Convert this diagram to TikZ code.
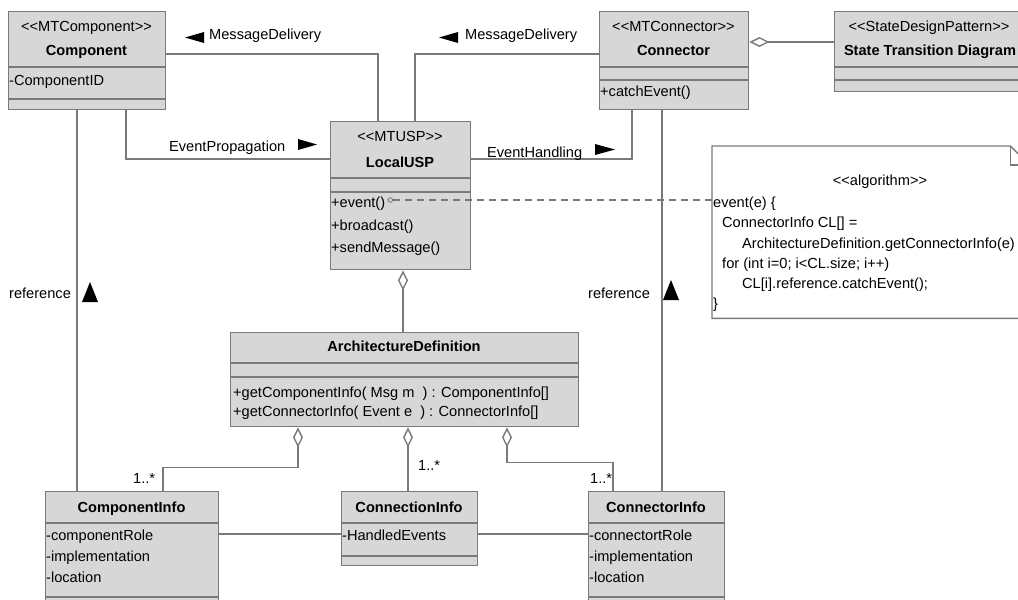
\documentclass[tikz,border=0pt]{standalone}
\usepackage{fontspec}
\setmainfont{Liberation Sans}
\usetikzlibrary{arrows.meta,calc}
\definecolor{lgray}{RGB}{122,122,122}
\definecolor{bfill}{RGB}{215,215,215}
\newcommand\dfont{\fontsize{14.6}{17}\selectfont}
\newcommand\stL{<\kern0pt<}
\newcommand\stR{>\kern0pt>}
\begin{document}
\begin{tikzpicture}[x=1pt,y=-1pt,font=\dfont,
  box/.style={draw=lgray,fill=bfill,line width=1.4pt,inner sep=0,anchor=north west},
  sepline/.style={draw=lgray,line width=1.4pt},
  txt/.style={inner sep=0,anchor=base},
  btxt/.style={inner sep=0,anchor=base,font=\dfont\bfseries},
  ltxt/.style={inner sep=0,anchor=base west},
  link/.style={draw=lgray,line width=1.4pt},
  agg/.style={link,{Diamond[open,length=20pt,width=10pt]}-},
  tri/.style={fill=black}]
\useasboundingbox (0,0) rectangle (1018,600);
\clip (0,0) rectangle (1018,600);
\fill[white] (0,0) rectangle (1018,600);

% ---------- boxes ----------
\node[box,minimum width=157,minimum height=98] (comp) at (8,11) {};
\draw[sepline] (8,67) -- (165,67) (8,99) -- (165,99);
\node[txt] (compS) at (86.5,31) {\stL MTComponent\stR};
\node[btxt] (compN) at (86.5,55) {Component};
\node[ltxt] (compA) at (9,85) {-ComponentID};

\node[box,minimum width=149,minimum height=98] (conn) at (599,11) {};
\draw[sepline] (599,67) -- (748,67) (599,80) -- (748,80);
\node[txt] (connS) at (673.5,31) {\stL MTConnector\stR};
\node[btxt] (connN) at (673.5,55) {Connector};
\node[ltxt] (connO) at (600,96) {+catchEvent()};

\node[box,minimum width=192,minimum height=80] (std) at (834,11) {};
\draw[sepline] (834,67) -- (1026,67) (834,80) -- (1026,80);
\node[txt] (stdS) at (929,31) {\stL StateDesignPattern\stR};
\node[btxt] (stdN) at (930,55) {State Transition Diagram};

\node[box,minimum width=140,minimum height=148] (usp) at (330,121) {};
\draw[sepline] (330,178) -- (470,178) (330,192) -- (470,192);
\node[txt] (uspS) at (400,141) {\stL MTUSP\stR};
\node[btxt] (uspN) at (400,167) {LocalUSP};
\node[ltxt] (uspO1) at (331,207) {+event()};
\node[ltxt] (uspO2) at (331,230) {+broadcast()};
\node[ltxt] (uspO3) at (331,252) {+sendMessage()};
\node[draw=lgray,line width=0.9pt,circle,inner sep=0,minimum size=4.5] (ev) at ($(uspO1.base east)+(5,-7)$) {};

\node[box,minimum width=348,minimum height=94] (arch) at (230,332) {};
\draw[sepline] (230,363) -- (578,363) (230,377) -- (578,377);
\node[btxt] (archN) at (404,351) {ArchitectureDefinition};
\node[ltxt] (archO1) at (233,397) {+getComponentInfo( Msg m \ ) : ComponentInfo[]};
\node[ltxt] (archO2) at (233,416) {+getConnectorInfo( Event e \ ) : ConnectorInfo[]};

\node[box,minimum width=173,minimum height=119] (cinfo) at (45,491) {};
\draw[sepline] (45,523) -- (218,523) (45,597) -- (218,597);
\node[btxt] (cinfoN) at (131.5,512) {ComponentInfo};
\node[ltxt] (cinfoA1) at (46,540) {-componentRole};
\node[ltxt] (cinfoA2) at (46,561) {-implementation};
\node[ltxt] (cinfoA3) at (46,582) {-location};

\node[box,minimum width=136,minimum height=74] (xinfo) at (341,491) {};
\draw[sepline] (341,523) -- (477,523) (341,556) -- (477,556);
\node[btxt] (xinfoN) at (409,512) {ConnectionInfo};
\node[ltxt] (xinfoA1) at (342,540) {-HandledEvents};

\node[box,minimum width=136,minimum height=119] (tinfo) at (588,491) {};
\draw[sepline] (588,523) -- (724,523) (588,597) -- (724,597);
\node[btxt] (tinfoN) at (656,512) {ConnectorInfo};
\node[ltxt] (tinfoA1) at (589,540) {-connectortRole};
\node[ltxt] (tinfoA2) at (589,561) {-implementation};
\node[ltxt] (tinfoA3) at (589,582) {-location};

% ---------- note ----------
\node[inner sep=0,anchor=north west,minimum width=317,minimum height=172] (note) at (712,146) {};
\draw[draw=lgray,fill=white,line width=1.4pt] (note.north west) -- ($(note.north east)+(-19,0)$)
  -- ($(note.north east)+(0,19)$) -- (note.south east) -- (note.south west) -- cycle;
\draw[draw=lgray,line width=1.4pt] ($(note.north east)+(-19,0)$) -- ++(0,19) -- ++(19,0);
\node[txt] (noteS) at (880,185) {\stL algorithm\stR};
\node[ltxt] (n1) at (713,207) {event(e) \{};
\node[ltxt] (n2) at (722,227) {ConnectorInfo CL[] =};
\node[ltxt] (n3) at (742,248) {ArchitectureDefinition.getConnectorInfo(e)};
\node[ltxt] (n4) at (722,268) {for (int i=0; i<CL.size; i++)};
\node[ltxt] (n5) at (742,288) {CL[i].reference.catchEvent();};
\node[ltxt] (n6) at (713,308) {\}};

% ---------- connectors ----------
\draw[link] ($(comp.north east)+(0,43)$) -| ($(usp.north west)+(48,0)$);
\draw[link] ($(conn.north west)+(0,43)$) -| ($(usp.north west)+(85,0)$);
\draw[link] ($(comp.south west)+(118,0)$) |- ($(usp.north west)+(0,38)$);
\draw[link] ($(usp.north east)+(0,38)$) -| ($(conn.south west)+(33,0)$);
\draw[link] ($(comp.south west)+(69,0)$) -- ($(cinfo.north west)+(32,0)$);
\draw[link] ($(conn.south west)+(63,0)$) -- ($(tinfo.north west)+(74,0)$);
\draw[agg] ($(conn.north east)+(0,31)$) -- ($(std.north west)+(0,31)$);
\draw[agg] ($(usp.south west)+(73,0)$) -- ($(arch.north west)+(173,0)$);
\draw[agg] ($(arch.south west)+(68,0)$) -- ++(0,40) -| ($(cinfo.north west)+(118,0)$);
\draw[agg] ($(arch.south west)+(178,0)$) -- ($(xinfo.north west)+(67,0)$);
\draw[agg] ($(arch.south west)+(277,0)$) -- ++(0,35) -| ($(tinfo.north west)+(25,0)$);
\draw[link] ($(cinfo.north east)+(0,43)$) -- ($(xinfo.north west)+(0,43)$);
\draw[link] ($(xinfo.north east)+(0,43)$) -- ($(tinfo.north west)+(0,43)$);
\draw[link,dash pattern=on 7pt off 5pt,line width=1.2pt] (ev.east) -- (ev.east -| note.west);

% ---------- labels ----------
\node[ltxt] (md1) at (209,39) {MessageDelivery};
\fill[tri] (185,37.5) -- (204,32) -- (204,43) -- cycle;
\node[ltxt] (md2) at (465,39) {MessageDelivery};
\fill[tri] (439,37.5) -- (458,32) -- (458,43) -- cycle;
\node[ltxt] (ep) at (169,151) {EventPropagation};
\fill[tri] (298,139) -- (298,150) -- (317,144.5) -- cycle;
\node[ltxt] (eh) at (487,157) {EventHandling};
\fill[tri] (595,144) -- (595,155) -- (615,149.5) -- cycle;
\node[ltxt] (ref1) at (9,298) {reference};
\fill[tri] (82,302) -- (98,302) -- (90,282) -- cycle;
\node[ltxt] (ref2) at (588,298) {reference};
\fill[tri] (663,300) -- (679,300) -- (671,280) -- cycle;
\node[ltxt] (m1) at (133,483) {1..*};
\node[ltxt] (m2) at (418,470) {1..*};
\node[ltxt] (m3) at (590,483) {1..*};
\end{tikzpicture}
\end{document}
